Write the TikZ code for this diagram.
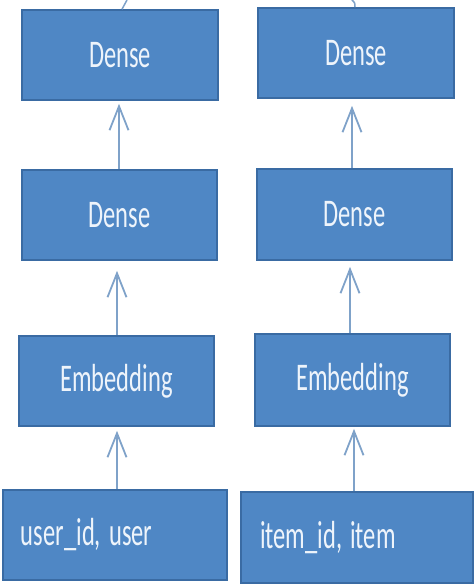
\documentclass[tikz,border=0pt]{standalone}
\usepackage{fontspec}
\setmainfont{Carlito}
\usetikzlibrary{arrows.meta}
\definecolor{boxfill}{HTML}{4F87C5}
\definecolor{boxline}{HTML}{3A6BA3}
\definecolor{arrcol}{HTML}{7FA2C9}
\definecolor{txtcol}{HTML}{EEF4FB}
\newcommand{\stretchtxt}[1]{\scalebox{1}[1.6]{#1}}
\tikzset{
  layerbox/.style={draw=boxline, line width=1.6bp, fill=boxfill, text=txtcol,
    font=\fontsize{24.5bp}{28bp}\selectfont, inner sep=0pt, align=center},
  inbox/.style={layerbox, align=left, inner ysep=0pt},
  arr/.style={draw=arrcol, line width=1.8bp, -{Straight Barb[length=24bp,width=19bp,line width=1.8bp]}},
  feed/.style={draw=arrcol, line width=1.5bp}
}
\begin{document}
\begin{tikzpicture}[x=1bp,y=-1bp]
\useasboundingbox (0,0) rectangle (474,585);
% top dense
\node[layerbox, minimum width=196bp, minimum height=90bp] (dl1) at (120,55) {\stretchtxt{Dense}};
\node[layerbox, minimum width=196bp, minimum height=90bp] (dr1) at (356,53) {\stretchtxt{Dense}};
% second dense
\node[layerbox, minimum width=195bp, minimum height=90bp] (dl2) at (119.5,215) {\stretchtxt{Dense}};
\node[layerbox, minimum width=195bp, minimum height=91bp] (dr2) at (354.5,214.5) {\stretchtxt{Dense}};
% embedding
\node[layerbox, minimum width=195bp, minimum height=90bp] (el) at (116.5,381) {\stretchtxt{Embedding}};
\node[layerbox, minimum width=195bp, minimum height=92bp] (er) at (352.5,380) {\stretchtxt{Embedding}};
% inputs
\node[inbox, text width=188bp, inner xsep=18bp, minimum height=90bp] (il) at (115,535) {\stretchtxt{user\_id, user}};
\node[inbox, text width=194bp, inner xsep=19bp, minimum height=91bp] (ir) at (357,537.5) {\stretchtxt{item\_id, item}};
% outgoing lines at top
\coordinate (tl) at (127,0);
\coordinate (tr) at (352,0);
\draw[feed] ([xshift=2bp]dl1.north) -- (tl);
\draw[feed] ([xshift=-1bp]dr1.north) .. controls (355,3) .. (tr);
% arrows
\draw[arr] ([xshift=-0.5bp]dl2.north) -- ([xshift=-0.5bp,yshift=-3bp]dl2.north |- dl1.south);
\draw[arr] ([xshift=-2.5bp]dr2.north) -- ([xshift=-2.5bp,yshift=-7bp]dr2.north |- dr1.south);
\draw[arr] ([xshift=0.5bp]el.north) -- ([xshift=0.5bp,yshift=-10bp]el.north |- dl2.south);
\draw[arr] ([xshift=-2.5bp]er.north) -- ([xshift=-2.5bp,yshift=-6bp]er.north |- dr2.south);
\draw[arr] ([xshift=2bp]il.north) -- ([xshift=2bp,yshift=-4bp]il.north |- el.south);
\draw[arr] ([xshift=-3bp]ir.north) -- ([xshift=-3bp,yshift=-2bp]ir.north |- er.south);
\end{tikzpicture}
\end{document}
